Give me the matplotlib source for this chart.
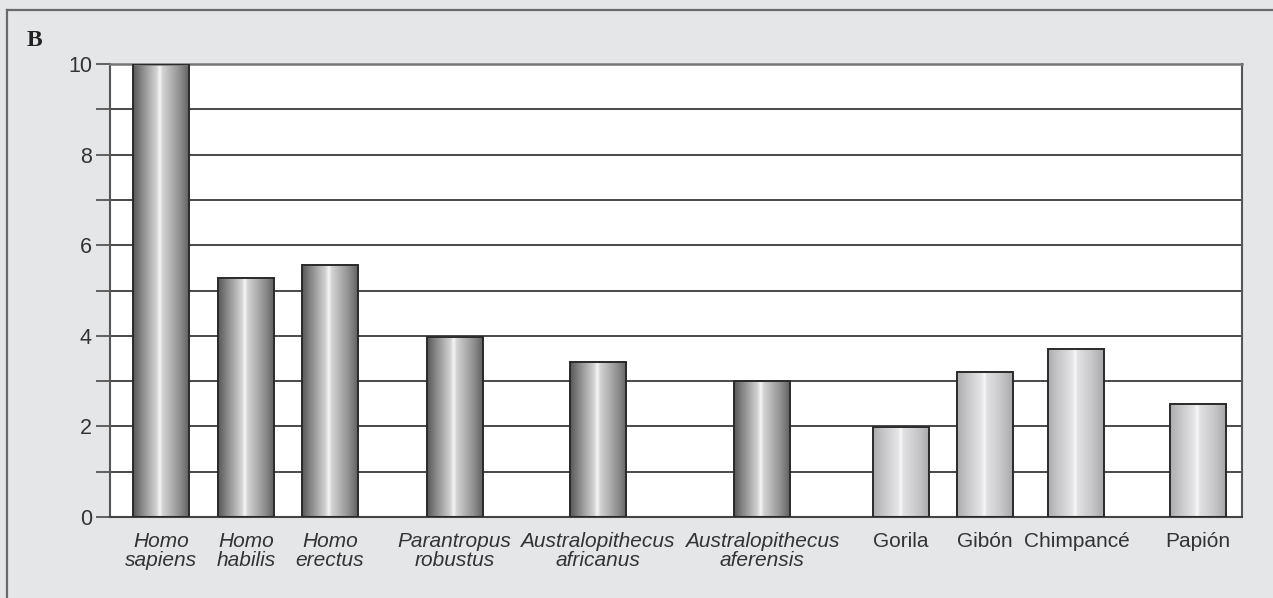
import numpy as np
import matplotlib.pyplot as plt
from matplotlib.colors import LinearSegmentedColormap
from matplotlib.lines import Line2D

# species and relative values
especies = ["Homo\nsapiens", "Homo\nhabilis", "Homo\nerectus",
            "Parantropus\nrobustus", "Australopithecus\nafricanus",
            "Australopithecus\naferensis",
            "Gorila", "Gibón", "Chimpancé", "Papión"]
valores = [10.0, 5.28, 5.56, 3.98, 3.43, 3.01, 1.99, 3.19, 3.70, 2.50]
homininos = [True, True, True, True, True, True, False, False, False, False]

# bar centres along the axis and bar width
xpos = [51, 136, 220, 344.5, 487.7, 652, 791, 874.5, 966.4, 1087.9]
ancho = 56

oscuro = LinearSegmentedColormap.from_list("oscuro", [
    (0.0, "#575757"), (0.15, "#858585"), (0.42, "#d2d2d2"), (0.48, "#f6f6f6"),
    (0.53, "#d4d4d4"), (0.85, "#8c8c8c"), (1.0, "#626262")])
claro = LinearSegmentedColormap.from_list("claro", [
    (0.0, "#acacae"), (0.2, "#c8c8ca"), (0.44, "#e6e6e8"), (0.49, "#f8f8f8"),
    (0.53, "#e2e2e4"), (0.8, "#c6c6c8"), (1.0, "#a8a8aa")])

fondo = "#e5e6e8"
fig = plt.figure(figsize=(12.73, 5.98), dpi=100, facecolor=fondo)
ax = fig.add_axes([110/1273, 1-517/598, 1132/1273, 453/598])
ax.set_facecolor("white")

# outer frame (top and left only)
fig.add_artist(Line2D([7/1273, 1], [1-10/598, 1-10/598], color="#6a6a6a", lw=1.6))
fig.add_artist(Line2D([7/1273, 7/1273], [0, 1-10/598], color="#6a6a6a", lw=1.6))
fig.text(27/1273, 1-46/598, "B", family="Liberation Serif", weight="bold",
         fontsize=17, color="#222222", va="baseline")

ax.set_xlim(0, 1132)
ax.set_ylim(0, 10)

for y in range(1, 10):
    ax.axhline(y, color="#2a2a2a", lw=1.2, zorder=1)

grad = np.linspace(0, 1, 256).reshape(1, -1)
for x, v, h in zip(xpos, valores, homininos):
    cmap = oscuro if h else claro
    ax.imshow(grad, cmap=cmap, aspect="auto", interpolation="bilinear",
              extent=[x - ancho/2, x + ancho/2, 0, v], zorder=2)
    ax.bar(x, v, width=ancho, facecolor="none", edgecolor="#2a2a2a",
           lw=1.4, zorder=3)

ax.set_yticks(range(0, 11, 2))
ax.set_yticks(range(1, 10, 2), minor=True)
ax.tick_params(axis="y", which="both", direction="out", length=10,
               width=1.3, color="#555555", pad=3, labelsize=15.5,
               labelcolor="#333333")
for t in ax.get_yticklabels():
    t.set_family("Liberation Sans")

ax.set_xticks(xpos)
ax.set_xticklabels(especies, fontsize=15, color="#333333",
                   family="Liberation Sans", linespacing=0.95)
ax.tick_params(axis="x", length=0, pad=11)
for t, h in zip(ax.get_xticklabels(), homininos):
    if h:
        t.set_style("italic")

for s in ["left", "right"]:
    ax.spines[s].set_color("#555555")
    ax.spines[s].set_linewidth(1.5)
ax.spines["bottom"].set_color("#444444")
ax.spines["bottom"].set_linewidth(1.5)
ax.spines["top"].set_color("#777777")
ax.spines["top"].set_linewidth(1.8)

fig.savefig("out.png", dpi=100, facecolor=fondo)
